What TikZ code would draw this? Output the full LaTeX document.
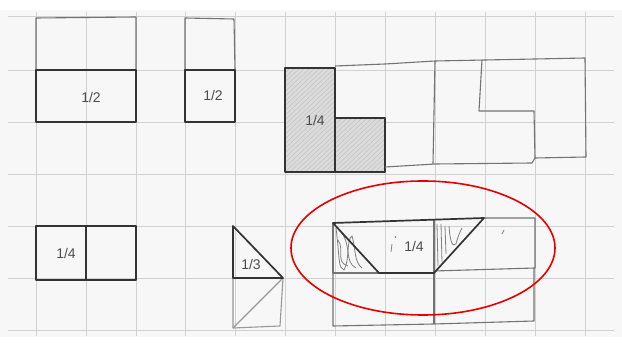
\documentclass[tikz,border=0pt]{standalone}
\usepackage{fontspec}
\setmainfont{Liberation Sans}
\begin{document}
\begin{tikzpicture}[x=1pt,y=-1pt,
  gridline/.style={draw=black!18,line width=0.6pt},
  thick box/.style={draw=black!80,line width=1.7pt,line join=round},
  pencil/.style={draw=black!55,line width=1.1pt,line join=round},
  lbl/.style={font=\fontsize{14}{16}\selectfont,text=black!70,inner sep=0pt},
  scrib/.style={draw=black!50,line width=0.8pt}]
\useasboundingbox (0,0) rectangle (622,347);
\fill[black!3] (0,0) rectangle (622,347);
\fill[white] (0,0) rectangle (622,10);
\fill[white] (0,337) rectangle (622,347);
% grid
\foreach \x in {36,86,136,185,235,285,335,385,435,485,535,585}
  \draw[gridline] (\x,12) -- (\x,336);
\foreach \y in {16,70,122,174,226,278,330}
  \draw[gridline] (8,\y) -- (614,\y);

% top-left pieces
\draw[pencil] (36,70) -- (36,18) -- (136,17) -- (136,70);
\draw[thick box] (36,70) rectangle (136,122);
\node[lbl] (h1) at (91,97) {1/2};
\draw[pencil] (185,70) -- (185,18) -- (234,19) -- (235,70);
\draw[thick box] (185,70) rectangle (235,122);
\node[lbl] (h2) at (213,95) {1/2};

% shaded L
\fill[black!14] (285,68) -- (335,68) -- (335,118) -- (385,118) -- (385,172) -- (285,172) -- cycle;
\begin{scope}
\clip (285,68) -- (335,68) -- (335,118) -- (385,118) -- (385,172) -- (285,172) -- cycle;
\foreach \k in {0,5,...,220}
  \draw[black!24,line width=0.5pt] (285+\k-110,172) -- (285+\k,68);
\end{scope}
\draw[thick box] (285,68) -- (335,68) -- (335,118) -- (385,118) -- (385,172) -- (285,172) -- cycle;
\draw[thick box] (335,118) -- (335,172);
\node[lbl] (q1) at (315,120) {1/4};

% pencil outline to the right
\draw[pencil] (335,66) -- (385,64) -- (435,61) -- (485,60) -- (585,58) -- (586,157) -- (535,158) -- (532,163) -- (435,164) -- (385,167);
\draw[pencil] (435,61) -- (433,164);
\draw[pencil] (482,60) -- (479,111) -- (534,111) -- (535,158);

% bottom-left 1/4
\draw[thick box] (36,226) rectangle (136,280);
\draw[thick box,line width=1.2pt] (86,226) -- (86,280);
\node[lbl] (q2) at (66,253) {1/4};

% triangle 1/3
\draw[pencil,draw=black!40] (233,278) -- (233,328) -- (280,326) -- (283,278);
\draw[pencil,draw=black!40] (233,328) -- (283,278);
\draw[thick box] (233,226) -- (233,278) -- (283,278) -- cycle;
\node[lbl] (t1) at (251,264) {1/3};

% parallelogram area
\draw[pencil] (333,223) -- (333,273) -- (434,273);
\draw[pencil] (434,219) -- (434,324);
\draw[pencil] (484,218) -- (535,218) -- (535,268) -- (434,271);
\draw[pencil] (333,273) -- (333,326) -- (434,324) -- (534,321) -- (534,268);
% scribbles
\draw[scrib] (336,228) .. controls (340,260) and (338,268) .. (344,270)
  .. controls (350,260) and (346,240) .. (352,236)
  .. controls (356,250) and (354,262) .. (362,268);
\draw[scrib] (338,240) .. controls (345,250) and (335,262) .. (348,266);
\draw[scrib] (341,232) .. controls (352,246) and (344,262) .. (356,268);
\draw[scrib] (437,224) -- (438,266);
\draw[scrib] (441,224) -- (442,262);
\draw[scrib] (445,226) -- (446,254);
\draw[scrib] (449,226) .. controls (450,240) and (452,248) .. (456,244) .. controls (458,236) and (460,232) .. (462,228);
\draw[scrib] (392,244) -- (391,252);
\draw[scrib] (395,236) -- (395,238);
\draw[scrib] (502,234) -- (504,230);
\draw[thick box] (333,223) -- (484,218) -- (434,273) -- (379,273) -- cycle;
\node[lbl] (q3) at (414,246) {1/4};

% red ellipse
\draw[red!90!black,line width=1.6pt] (423,248) ellipse [x radius=132,y radius=67];
\end{tikzpicture}
\end{document}
